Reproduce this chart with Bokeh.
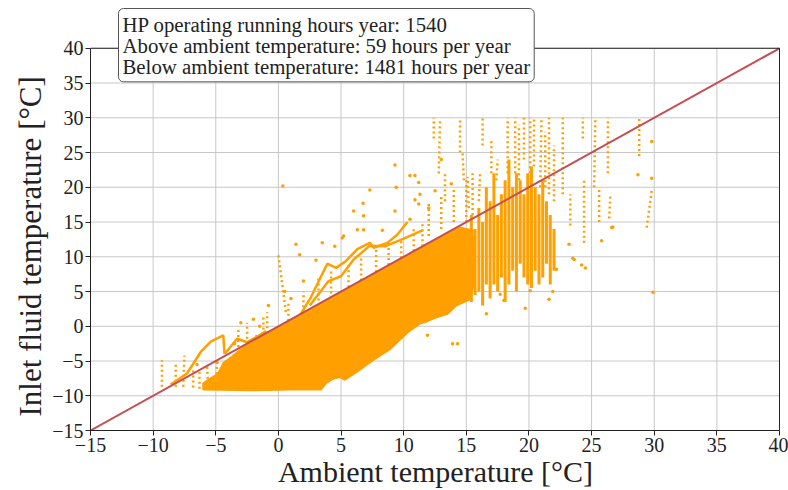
from bokeh.plotting import figure
from bokeh.models import Label, FixedTicker, Title
from bokeh.embed import file_html
from bokeh.resources import INLINE

# ---- data (ambient temperature, inlet fluid temperature) ----
ticks = [-15, -10, -5, 0, 5, 10, 15, 20, 25, 30, 35, 40]
diag = [-15, 40]

# outline of the densely filled cloud
core_x = [-6.0, -2.0, 1.0, 3.4, 3.8, 4.3, 4.9, 5.3, 6.3, 7.6, 8.9, 10.3, 11.3, 11.7, 12.5, 13.5,
          14.2, 15.2, 15.6, 15.5, 14.5, 13.0, 12.0, 11.0, 10.0, 9.0, 8.0, 7.0, 6.0, 5.0, 4.0,
          3.0, 2.0, 1.0, 0.0, -1.0, -2.0, -3.0, -3.8, -4.4, -4.8, -5.5, -6.0]
core_y = [-9.1, -9.2, -9.1, -9.1, -8.2, -7.6, -7.3, -7.7, -6.5, -4.8, -3.3, -0.9, 0.4, 0.6, 1.2, 1.8,
          3.0, 3.8, 6.0, 13.8, 14.2, 12.8, 11.8, 10.8, 9.8, 8.8, 7.8, 6.9, 5.9, 4.8, 3.9,
          2.9, 1.9, 0.9, -0.1, -1.1, -2.2, -3.3, -4.5, -5.3, -6.8, -7.6, -8.2]

# packed vertical runs of points (semi-dense band)
band_x = [15.4, 15.7, 16.0, 16.3, 16.6, 16.9, 17.2, 17.5, 17.8, 18.1, 18.4, 18.7, 19.0, 19.3,
          19.6, 19.9, 20.2, 20.5, 20.8, 21.1, 21.4, 21.7, 22.0]
band_lo = [3.5, 4.5, 5.0, 3.0, 6.0, 4.0, 6.0, 5.0, 7.0, 3.5, 6.0, 8.0, 5.0, 9.0,
           7.0, 6.0, 5.5, 8.0, 6.0, 7.0, 9.0, 6.0, 8.0]
band_hi = [16.0, 14.0, 17.0, 15.0, 20.0, 18.0, 22.0, 16.0, 19.0, 21.0, 24.0, 20.0, 22.0, 21.0,
           19.0, 22.0, 23.0, 20.0, 19.0, 21.0, 18.0, 16.0, 14.0]

# sparse dotted vertical runs (start / end)
run_x0 = [-9.3, -8.2, -7.6, -6.8, -6.3, -5.6, -5.0, -3.2, -1.75, -0.9, 0.0,
          12.4, 12.8, 13.3, 14.5, 14.8, 15.2, 16.0, 16.3, 17.0, 17.4, 18.3, 18.9, 19.2, 19.6,
          20.1, 20.4, 20.9, 21.3, 21.6, 22.0, 22.7, 23.3, 24.4, 24.3, 25.2, 25.6, 26.3, 26.4,
          28.8, 29.4,
          -2.5, -1.2, 0.8, 2.0, 3.2, 4.2, 5.6, 6.6, 7.8, 8.8, 9.8, 10.8, 11.5,
          12.0, 13.0, 14.0, 15.0, 15.5]
run_y0 = [-8.7, -8.7, -8.7, -8.8, -9.0, -9.0, -9.0, -3.0, -3.7, -1.0, 10.2,
          27.0, 22.0, 18.0, 25.0, 21.0, 17.0, 18.0, 26.0, 22.0, 21.0, 22.0, 22.0, 21.0, 24.0,
          22.0, 23.0, 20.0, 20.0, 19.0, 18.0, 19.0, 14.5, 12.0, 27.0, 20.0, 15.0, 22.0, 15.5,
          24.5, 14.2,
          -2.5, -1.2, 0.8, 2.0, 3.0, 4.0, 5.6, 6.6, 7.8, 8.8, 9.8, 10.8, 11.5,
          13.0, 14.0, 15.0, 15.0, 16.0]
run_x1 = [-9.3, -8.2, -7.5, -6.8, -6.3, -5.7, -4.9, -3.2, -1.75, -0.9, 0.6,
          12.4, 12.9, 13.3, 14.5, 14.7, 15.1, 16.1, 16.3, 17.0, 17.5, 18.3, 18.9, 19.2, 19.6,
          20.1, 20.4, 21.0, 21.3, 21.6, 22.0, 22.7, 23.3, 24.4, 24.3, 25.3, 25.6, 26.3, 26.5,
          28.8, 29.8,
          -2.5, -1.2, 0.8, 2.0, 3.2, 4.2, 5.6, 6.6, 7.8, 8.8, 9.8, 10.8, 11.5,
          12.0, 13.0, 14.0, 15.0, 15.5]
run_y1 = [-4.9, -5.4, -4.2, -6.3, -6.6, -5.6, -5.2, -0.2, -0.9, 2.0, 2.0,
          30.0, 29.5, 22.0, 30.0, 25.0, 21.5, 22.0, 30.0, 27.0, 24.0, 30.0, 30.0, 29.0, 30.0,
          30.0, 30.0, 30.0, 28.0, 30.0, 26.0, 30.0, 19.0, 21.0, 30.0, 30.0, 20.0, 30.0, 19.0,
          30.0, 19.5,
          0.5, 1.5, 3.5, 5.0, 7.0, 8.0, 9.0, 10.0, 11.0, 12.0, 12.5, 14.0, 15.0,
          18.0, 19.0, 20.0, 21.0, 22.0]

# connected trajectories above the diagonal
traj_x = [[-8.6, -7.3, -6.2, -5.4, -4.4, -4.3],
          [-4.3, -3.3, -2.5, -1.7, -1.0],
          [1.6, 2.6, 3.9, 4.6, 5.4, 6.3, 7.3, 7.6, 8.7, 9.5, 10.3],
          [2.5, 4.0, 5.0, 6.0, 7.3, 8.5, 10.0, 11.5]]
traj_y = [[-8.4, -6.8, -3.7, -2.2, -1.3, -4.0],
          [-4.0, -1.8, -2.3, -1.5, -0.7],
          [1.2, 4.2, 9.0, 8.4, 9.4, 11.1, 12.0, 11.3, 12.0, 13.2, 15.0],
          [3.0, 6.5, 7.2, 9.6, 11.6, 11.5, 12.6, 13.8]]

# isolated points
pts_x = [0.35, 9.3, 9.4, 10.5, 10.9, 11.2, 7.3, 6.76, 6.8, 6.0, 9.3, 10.5, 1.4, 1.7, 5.1, 6.3,
         6.8, 8.3, 10.9, 11.3, 11.2, 5.2, -3.0, -2.0, -1.5, -0.8, 0.5, 1.0, 2.0, 3.0, 4.5, 3.5,
         12.0, 12.5, 13.0, 13.8, 23.2, 23.6, 24.5, 25.8, 26.6, 22.2, 21.6, 20.1, 18.0, 16.6,
         14.3, 17.7, 21.9, 19.7, 23.5, 24.2, 26.7, 28.7, 29.8, 29.8, 29.9, 11.9, 13.9, -4.9,
         -6.5, -3.5]
pts_y = [20.2, 23.2, 20.0, 21.7, 21.7, 20.7, 19.6, 17.7, 15.9, 16.6, 16.6, 15.4, 11.8, 10.3, 12.7, 13.9,
         13.9, 13.8, 18.2, 19.0, 17.6, 13.0, 0.5, 1.0, 0.0, 3.0, 5.0, 4.0, 6.5, 9.5, 11.5, 12.0,
         17.0, 19.5, 24.0, 20.5, 11.8, 9.6, 8.4, 12.3, 14.2, 8.2, 3.9, 5.1, 3.7, 1.8,
         -2.5, 4.6, 5.0, 2.6, 9.8, 8.8, 14.3, 21.8, 26.6, 21.3, 4.9, -1.3, -2.5, -5.2,
         -5.5, -2.5]

info_lines = ["HP operating running hours year: 1540",
              "Above ambient temperature: 59 hours per year",
              "Below ambient temperature: 1481 hours per year"]
x_title = "Ambient temperature [°C]"
y_title = "Inlet fluid temperature [°C]"

ORANGE = "#ffa000"
SERIF = "Liberation Serif"
INK = "#222222"

# the frame is stretched up to the top of the canvas so the info box can overlap the
# area above y = 40; grid and spines are drawn up to the last tick only.
p = figure(width=788, height=490, x_range=(-15, 40.08), y_range=(-15, 46.875),
           output_backend="svg", toolbar_location=None,
           min_border_left=90, min_border_right=8, min_border_top=0, min_border_bottom=58)
p.background_fill_color = "white"
p.border_fill_color = "white"
p.outline_line_color = None
p.grid.visible = False

lo, hi = ticks[0], ticks[-1]
p.segment(x0=ticks, y0=[lo] * len(ticks), x1=ticks, y1=[hi] * len(ticks),
          line_color="#c8c8c8", line_width=1)
p.segment(x0=[lo] * len(ticks), y0=ticks, x1=[hi] * len(ticks), y1=ticks,
          line_color="#c8c8c8", line_width=1)

p.patch(core_x, core_y, fill_color=ORANGE, line_color=ORANGE, line_width=2)
p.segment(x0=band_x, y0=band_lo, x1=band_x, y1=band_hi, line_color=ORANGE, line_width=3)
p.segment(x0=run_x0, y0=run_y0, x1=run_x1, y1=run_y1, line_color=ORANGE, line_width=2.5,
          line_dash="2 3")
p.multi_line(traj_x, traj_y, line_color=ORANGE, line_width=2.5)
p.scatter(pts_x, pts_y, size=3.5, fill_color=ORANGE, line_color=None)
p.line(diag, diag, line_color="#c44e52", line_width=2)

# top and right spines
p.segment(x0=[lo, hi], y0=[hi, lo], x1=[hi, hi], y1=[hi, hi], line_color=INK, line_width=1)

for ax in (p.xaxis, p.yaxis):
    ax.ticker = FixedTicker(ticks=ticks)
    ax.bounds = (lo, hi)
    ax.major_label_overrides = {t: (("\u2212" + str(-t)) if t < 0 else str(t)) for t in ticks}
    ax.major_label_text_font = SERIF
    ax.major_label_text_font_size = "20px"
    ax.major_label_text_color = INK
    ax.axis_label_text_font = SERIF
    ax.axis_label_text_font_style = "normal"
    ax.axis_label_text_color = INK
    ax.axis_line_color = INK
    ax.major_tick_line_color = INK
    ax.major_tick_out = 5
    ax.major_tick_in = 0
    ax.minor_tick_line_color = None
    ax.major_label_standoff = 2

p.xaxis.axis_label = x_title
p.xaxis.axis_label_text_font_size = "30px"
p.xaxis.axis_label_standoff = 0

# y title centred on the drawn axis (y = -15..40), not on the stretched frame
p.add_layout(Title(text=y_title, align="left", offset=14, text_font=SERIF,
                   text_font_size="31px", text_font_style="normal", text_color=INK,
                   vertical_align="bottom", standoff=4), "left")

box = Label(x=28, y=422, x_units="screen", y_units="screen", text="\n".join(info_lines),
            text_font=SERIF, text_font_size="20.8px", text_color=INK,
            text_align="left", text_baseline="top", text_line_height=0.92,
            padding=4, border_line_color="#555555", border_line_width=1,
            background_fill_color="white", background_fill_alpha=1.0, border_radius=5)
p.add_layout(box)

open("out.html", "w").write(file_html(p, INLINE))
